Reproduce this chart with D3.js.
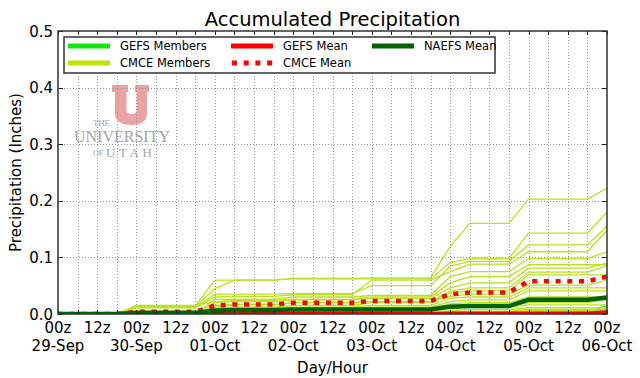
<!DOCTYPE html>
<html><head><meta charset="utf-8">
<script src="https://cdn.jsdelivr.net/npm/d3@7"></script>
<style>body{margin:0;background:#fff}svg{display:block}text{font-family:"DejaVu Sans",sans-serif}</style>
</head><body><svg id="c" width="640" height="378"></svg>
<script>
// ---- data ----
const hours=[0,6,12,18,24,30,36,42,48,54,60,66,72,78,84,90,96,102,108,114,120,126,132,138,144,150,156,162,168];
const tickHours=[0,12,24,36,48,60,72,84,96,108,120,132,144,156,168];
const hourLabels=["00z","12z","00z","12z","00z","12z","00z","12z","00z","12z","00z","12z","00z","12z","00z"];
const dateLabels=["29-Sep","30-Sep","01-Oct","02-Oct","03-Oct","04-Oct","05-Oct","06-Oct"];
const yTicks=[0,0.1,0.2,0.3,0.4,0.5];
const yTickLabels=["0.0","0.1","0.2","0.3","0.4","0.5"];

const cmceMembers=[
[0,0,0,0,.013,.013,.013,.013,.045,.060,.060,.060,.063,.063,.063,.063,.064,.064,.064,.064,.119,.160,.160,.160,.203,.203,.203,.203,.222],
[0,0,0,0,.014,.014,.014,.014,.060,.060,.060,.060,.062,.062,.062,.062,.062,.062,.062,.062,.091,.098,.098,.098,.143,.143,.143,.143,.180],
[0,0,0,0,.012,.012,.012,.012,.035,.035,.035,.035,.036,.036,.036,.036,.050,.050,.050,.050,.084,.093,.093,.093,.122,.122,.122,.122,.155],
[0,0,0,0,.011,.011,.011,.011,.030,.031,.031,.031,.034,.034,.034,.034,.060,.060,.060,.060,.075,.088,.088,.088,.110,.110,.110,.110,.148],
[0,0,0,0,0,0,0,0,.026,.026,.026,.026,.030,.030,.030,.030,.033,.033,.033,.033,.066,.075,.075,.075,.098,.098,.098,.098,.110],
[0,0,0,0,.015,.015,.015,.015,.022,.024,.024,.024,.026,.026,.026,.026,.030,.030,.030,.030,.055,.066,.066,.066,.087,.087,.087,.087,.087],
[0,0,0,0,0,0,0,0,.020,.022,.022,.022,.025,.025,.025,.025,.027,.027,.027,.027,.046,.055,.055,.055,.081,.081,.081,.081,.090],
[0,0,0,0,0,0,0,0,.012,.016,.016,.016,.020,.020,.020,.020,.022,.022,.022,.022,.040,.046,.046,.046,.074,.074,.074,.074,.085],
[0,0,0,0,0,0,0,0,.010,.012,.012,.012,.015,.015,.015,.015,.020,.020,.020,.020,.037,.041,.041,.041,.069,.069,.069,.069,.069],
[0,0,0,0,0,0,0,0,.015,.017,.017,.017,.020,.020,.020,.020,.022,.022,.022,.022,.031,.035,.035,.035,.051,.051,.051,.051,.060],
[0,0,0,0,0,0,0,0,.008,.010,.010,.010,.012,.012,.012,.012,.015,.015,.015,.015,.028,.030,.030,.030,.046,.046,.046,.046,.046],
[0,0,0,0,0,0,0,0,.005,.006,.006,.006,.010,.010,.010,.010,.012,.012,.012,.012,.022,.025,.025,.025,.041,.041,.041,.041,.041],
[0,0,0,0,0,0,0,0,.004,.005,.005,.005,.008,.008,.008,.008,.010,.010,.010,.010,.018,.020,.020,.020,.030,.030,.030,.030,.030],
[0,0,0,0,0,0,0,0,.003,.004,.004,.004,.006,.006,.006,.006,.008,.008,.008,.008,.013,.015,.015,.015,.020,.020,.020,.020,.025],
[0,0,0,0,0,0,0,0,.002,.003,.003,.003,.004,.004,.004,.004,.006,.006,.006,.006,.010,.012,.012,.012,.016,.016,.016,.016,.016],
[0,0,0,0,0,0,0,0,.002,.002,.002,.002,.003,.003,.003,.003,.004,.004,.004,.004,.006,.008,.008,.008,.011,.011,.011,.011,.011],
[0,0,0,0,0,0,0,0,.001,.001,.001,.001,.002,.002,.002,.002,.002,.002,.002,.002,.004,.005,.005,.005,.008,.008,.008,.008,.008],
[0,0,0,0,0,0,0,0,0,.001,.001,.001,.001,.001,.001,.001,.002,.002,.002,.002,.003,.004,.004,.004,.006,.006,.006,.006,.006],
[0,0,0,0,0,0,0,0,0,0,0,0,0,0,0,0,.001,.001,.001,.001,.002,.003,.003,.003,.005,.005,.005,.005,.005],
[0,0,0,0,0,0,0,0,0,0,0,0,0,0,0,0,0,0,0,0,.001,.001,.001,.001,.004,.004,.004,.004,.004],
[0,0,0,0,0,0,0,0,0,0,0,0,0,0,0,0,0,0,0,0,0,0,0,0,0,0,0,0,.010]
];
const gefsMembers=[
[0,0,0,0,0,0,0,0,0,0,0,0,0,0,0,0,0,0,0,0,0,0,0,0,.002,.002,.002,.003,.015],
[0,0,0,0,0,0,0,0,0,0,0,0,0,0,0,0,0,0,0,0,0,0,0,0,0,0,0,0,.010],
[0,0,0,0,0,0,0,0,0,0,0,0,0,0,0,0,0,0,0,0,.001,.001,.001,.001,.001,.001,.001,.001,.006],
[0,0,0,0,0,0,0,0,0,0,0,0,0,0,0,0,0,0,0,0,0,0,0,0,.001,.001,.001,.001,.003],
[0,0,0,0,0,0,0,0,0,0,0,0,0,0,0,0,0,0,0,0,0,0,0,0,0,0,0,0,0],
[0,0,0,0,0,0,0,0,0,0,0,0,0,0,0,0,0,0,0,0,0,0,0,0,0,0,0,0,0]
];
const gefsMean=[0,0,0,0,0,0,0,0,0,0,0,0,0,0,0,0,0,0,0,0,.001,.001,.001,.001,.001,.001,.001,.001,.003];
const cmceMean=[0,0,0,0,.004,.004,.004,.004,.015,.017,.017,.017,.020,.020,.020,.020,.023,.023,.023,.023,.035,.038,.038,.038,.058,.058,.058,.058,.066];
const naefsMean=[0,0,0,0,.002,.002,.002,.002,.006,.007,.007,.007,.008,.008,.008,.008,.008,.008,.008,.008,.013,.014,.014,.014,.025,.025,.025,.025,.029];

// ---- layout ----
const L=58,R=607,T=31,B=314;
const COL={gefs:"#11e611",cmce:"#bbe21c",red:"#ff0000",naefs:"#006400"};
const svg=d3.select("#c");
const x=d3.scaleLinear().domain([0,168]).range([L,R]);
const y=d3.scaleLinear().domain([0,0.5]).range([B,T]);

// logo
const logo=svg.append("g");
logo.append("path").attr("fill","#e9a3a3")
  .attr("d","M112,85H128V92H126.5V110Q126.5,114 131.5,114Q136.5,114 136.5,110V92H135V85H149V92H147V113Q147,125 131.5,125Q115,125 115,113V92H112Z");
const lg="#a4a4a4", serif="'Liberation Serif','DejaVu Serif',serif";
logo.append("text").attr("x",93).attr("y",126).style("font-family",serif).attr("font-size",9).attr("fill",lg).attr("textLength",17).attr("lengthAdjust","spacing").text("THE");
logo.append("text").attr("x",74).attr("y",142).style("font-family",serif).attr("font-size",16).attr("fill",lg).attr("textLength",96).attr("lengthAdjust","spacing").text("UNIVERSITY");
logo.append("text").attr("x",93).attr("y",156).style("font-family",serif).attr("font-size",8).attr("fill",lg).text("OF");
logo.append("text").attr("x",106).attr("y",157).style("font-family",serif).attr("font-size",13).attr("fill",lg).attr("textLength",46).attr("lengthAdjust","spacing").text("UTAH");

// grid
const grid=svg.append("g").attr("stroke","#999").attr("stroke-width",1).attr("stroke-dasharray","1,2");
grid.selectAll("line.v").data(hours.slice(1,-1)).enter().append("line")
  .attr("x1",d=>Math.round(x(d))+0.5).attr("x2",d=>Math.round(x(d))+0.5).attr("y1",T).attr("y2",B);
grid.selectAll("line.h").data(yTicks.slice(1,-1)).enter().append("line")
  .attr("y1",d=>Math.round(y(d))+0.5).attr("y2",d=>Math.round(y(d))+0.5).attr("x1",L).attr("x2",R);

// clip
svg.append("clipPath").attr("id","pc").append("rect").attr("x",L).attr("y",T).attr("width",R-L).attr("height",B-T);
const plot=svg.append("g").attr("clip-path","url(#pc)");
const line=d3.line().x((d,i)=>x(hours[i])).y(d=>y(d));

plot.selectAll("path.g").data(gefsMembers).enter().append("path").attr("fill","none")
  .attr("stroke",COL.gefs).attr("stroke-width",1.3).attr("d",line);
plot.selectAll("path.c").data(cmceMembers).enter().append("path").attr("fill","none")
  .attr("stroke",COL.cmce).attr("stroke-width",1.3).attr("d",line);
plot.append("path").datum(gefsMean).attr("fill","none").attr("stroke",COL.red).attr("stroke-width",4).attr("d",line);
plot.append("path").datum(cmceMean).attr("fill","none").attr("stroke",COL.red).attr("stroke-width",4.5)
  .attr("stroke-dasharray","5,6.7").attr("d",line);
plot.append("path").datum(naefsMean).attr("fill","none").attr("stroke",COL.naefs).attr("stroke-width",4.5).attr("d",line);

// ticks
const tk=svg.append("g").attr("stroke","#222").attr("stroke-width",1);
hours.forEach(h=>{
  const xx=Math.round(x(h))+0.5;
  tk.append("line").attr("x1",xx).attr("x2",xx).attr("y1",B).attr("y2",B-4);
  tk.append("line").attr("x1",xx).attr("x2",xx).attr("y1",T).attr("y2",T+4);
});
yTicks.forEach(v=>{
  const yy=Math.round(y(v))+0.5;
  tk.append("line").attr("x1",L).attr("x2",L+5).attr("y1",yy).attr("y2",yy);
  tk.append("line").attr("x1",R).attr("x2",R-5).attr("y1",yy).attr("y2",yy);
});
// frame
svg.append("rect").attr("x",L).attr("y",T).attr("width",R-L).attr("height",B-T)
  .attr("fill","none").attr("stroke","#333").attr("stroke-width",1.5);

// tick labels
const fs=15;
svg.selectAll("text.yt").data(yTicks).enter().append("text").attr("text-anchor","end")
  .attr("x",L-5).attr("y",d=>y(d)+5.5).attr("font-size",fs).attr("fill","#000").text((d,i)=>yTickLabels[i]);
svg.selectAll("text.xt").data(tickHours).enter().append("text").attr("text-anchor","middle")
  .attr("x",d=>x(d)).attr("y",333).attr("font-size",fs).text((d,i)=>hourLabels[i]);
svg.selectAll("text.xd").data(tickHours.filter((d,i)=>i%2===0)).enter().append("text").attr("text-anchor","middle")
  .attr("x",d=>x(d)).attr("y",351).attr("font-size",fs).text((d,i)=>dateLabels[i]);

svg.append("text").attr("x",(L+R)/2).attr("y",373).attr("text-anchor","middle").attr("font-size",fs).text("Day/Hour");
svg.append("text").attr("transform",`translate(21,${(T+B)/2}) rotate(-90)`).attr("text-anchor","middle").attr("font-size",fs).text("Precipitation (Inches)");
svg.append("text").attr("x",(L+R)/2).attr("y",26).attr("text-anchor","middle").attr("font-size",19.5).text("Accumulated Precipitation");

// legend
const leg=svg.append("g");
leg.append("rect").attr("x",64).attr("y",37).attr("width",431).attr("height",36).attr("fill","#fff").attr("stroke","#333").attr("stroke-width",1.5);
const items=[
 {label:"GEFS Members",c:COL.gefs,x:68,y:46,dash:null},
 {label:"CMCE Members",c:"#c0e400",x:68,y:63,dash:null},
 {label:"GEFS Mean",c:COL.red,x:231,y:46,dash:null},
 {label:"CMCE Mean",c:COL.red,x:231,y:63,dash:"5,6.7"},
 {label:"NAEFS Mean",c:COL.naefs,x:372,y:46,dash:null}
];
items.forEach(it=>{
  const l=leg.append("line").attr("x1",it.x).attr("x2",it.x+42).attr("y1",it.y).attr("y2",it.y)
    .attr("stroke",it.c).attr("stroke-width",5);
  if(it.dash) l.attr("stroke-dasharray",it.dash).attr("x1",it.x+1);
  leg.append("text").attr("x",it.x+52).attr("y",it.y+4).attr("font-size",11.5).text(it.label);
});
</script></body></html>
